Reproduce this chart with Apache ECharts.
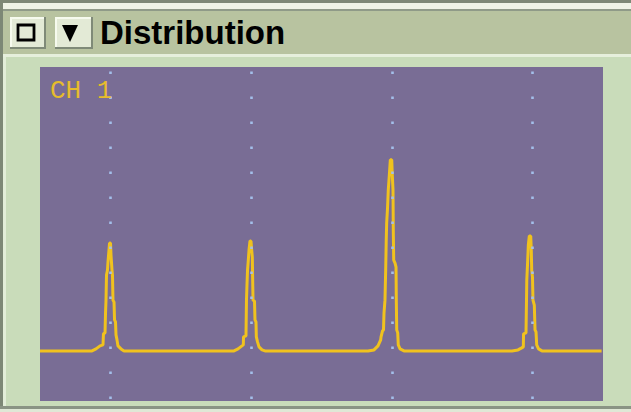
<!DOCTYPE html>
<html>
<head>
<meta charset="utf-8">
<script src="https://cdn.jsdelivr.net/npm/echarts@6/dist/echarts.min.js"></script>
<style>
html,body{margin:0;padding:0;background:#c9dcba;}
#chart{width:631px;height:412px;}
</style>
</head>
<body>
<div id="chart"></div>
<script>
// ---- data (bin index 0..800, counts 0..100) ----
var titleText = 'Distribution';
var channelLabel = 'CH 1';
var gridBins = [100, 300, 500, 700];
var baseline = 15.0;
var traceStart = 0;
var traceEnd = 798;
var peak1 = [[73.9,15.0],[79.6,15.6],[85.3,16.5],[89.5,16.8],[90.2,20.1],[92.4,20.4],[93.1,26.3],[93.8,30.2],[94.5,37.7],[95.9,39.2],[96.6,41.6],[98.0,45.2],[98.8,47.3],[100.2,47.3],[100.9,43.7],[102.3,39.2],[103.0,37.7],[103.7,30.2],[105.2,29.6],[105.9,24.3],[107.3,23.7],[108.0,19.8],[109.4,18.3],[110.8,16.5],[115.1,15.6],[119.4,15.0]];
var peak2 = [[275.7,15.0],[281.4,15.6],[287.0,16.5],[288.9,16.8],[289.2,19.2],[292.7,19.5],[293.4,30.2],[294.1,34.7],[294.9,39.2],[296.0,42.2],[297.0,45.2],[298.4,47.9],[299.8,47.9],[300.8,45.2],[301.7,43.1],[302.2,36.2],[302.7,30.2],[304.8,29.9],[305.5,24.3],[306.9,23.7],[307.4,19.2],[309.1,17.7],[311.2,16.2],[315.5,15.3],[319.7,15.0]];
var peak3 = [[466.1,15.0],[474.6,15.3],[480.3,16.5],[484.1,18.3],[484.6,19.2],[486.7,21.0],[488.1,21.3],[488.8,26.3],[490.2,30.2],[491.2,39.2],[492.0,48.2],[492.6,53.3],[493.7,57.2],[494.9,63.2],[496.4,67.7],[497.8,72.2],[499.8,72.2],[500.6,67.7],[501.6,63.2],[502.0,51.2],[502.6,42.2],[504.5,41.3],[505.9,40.1],[506.3,30.2],[506.9,21.3],[508.3,20.4],[509.1,16.8],[511.6,15.6],[517.2,15.0],[522.9,15.0]];
var peak4 = [[670.7,15.0],[679.2,15.3],[684.5,15.9],[686.8,16.2],[687.1,20.1],[690.6,20.4],[691.3,30.2],[691.7,36.2],[692.7,40.7],[693.9,46.7],[695.3,49.4],[697.3,49.4],[698.1,45.2],[698.7,39.2],[699.8,37.1],[700.5,30.2],[702.4,28.7],[703.4,21.3],[704.8,20.7],[705.8,16.8],[708.4,15.6],[713.3,15.0]];

var trace = [[traceStart, baseline]]
  .concat(peak1, peak2, peak3, peak4)
  .concat([[traceEnd, baseline]]);

var chart = echarts.init(document.getElementById('chart'), null, {renderer: 'svg'});

function bevelButton(x, y, w, h) {
  return [
    {type:'rect', shape:{x:x, y:y, width:w, height:h}, style:{fill:'#7f8a78'}},
    {type:'rect', shape:{x:x, y:y, width:w-2, height:h-2}, style:{fill:'#f6faee'}},
    {type:'rect', shape:{x:x+2, y:y+2, width:w-4, height:h-4}, style:{fill:'#e3ead6'}}
  ];
}

var graphics = [
  // window chrome
  {type:'rect', shape:{x:0, y:0, width:631, height:3}, style:{fill:'#7d8876'}},
  {type:'rect', shape:{x:0, y:3, width:631, height:6}, style:{fill:'#eef3e6'}},
  {type:'rect', shape:{x:0, y:9, width:631, height:2}, style:{fill:'#8f9a88'}},
  {type:'rect', shape:{x:0, y:11, width:631, height:43}, style:{fill:'#b8c3a0'}},
  {type:'rect', shape:{x:0, y:54, width:631, height:3}, style:{fill:'#e6efdc'}},
  {type:'rect', shape:{x:0, y:0, width:3, height:412}, style:{fill:'#7d8876'}},
  {type:'rect', shape:{x:3, y:57, width:3, height:349}, style:{fill:'#e2edd8'}},
  {type:'rect', shape:{x:0, y:406, width:631, height:3}, style:{fill:'#8a9484'}},
  {type:'rect', shape:{x:0, y:409, width:631, height:3}, style:{fill:'#dfe8d6'}}
];
graphics = graphics.concat(bevelButton(10, 17, 36, 32), bevelButton(55, 17, 38, 32));
graphics.push(
  {type:'rect', shape:{x:18, y:25, width:16, height:15}, style:{fill:'none', stroke:'#000', lineWidth:2.8}},
  {type:'polygon', shape:{points:[[62,25],[78,25],[70,42]]}, style:{fill:'#000'}},
  {type:'text', left:100, top:16, style:{text:titleText, fill:'#000', font:'bold 33px "Liberation Sans", Arial, sans-serif'}},
  {type:'text', left:50, top:78, z:10, style:{text:channelLabel, fill:'#e6bc2c', font:'26px "Liberation Mono", "Courier New", monospace'}}
);

chart.setOption({
  animation: false,
  backgroundColor: '#c9dcba',
  graphic: graphics,
  grid: {left:40, top:67, width:563, height:334, show:true, backgroundColor:'#796d95', borderWidth:0},
  xAxis: {type:'value', min:0, max:800, show:false},
  yAxis: {type:'value', min:0, max:100, show:false},
  series: [{
    type:'line',
    data: trace,
    showSymbol:false,
    symbol:'none',
    lineStyle:{color:'#f0c21e', width:3},
    markLine:{
      silent:true,
      symbol:'none',
      label:{show:false},
      animation:false,
      lineStyle:{color:'#a3bfea', width:2.6, type:[2.6,22.4], dashOffset:23, opacity:1},
      data: gridBins.map(function(b){ return {xAxis:b}; })
    }
  }]
});
</script>
</body>
</html>
